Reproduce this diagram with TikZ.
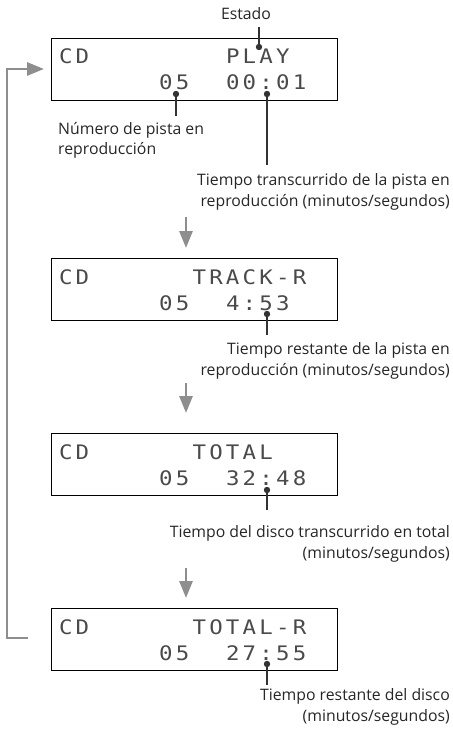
\documentclass[tikz,border=0pt]{standalone}
\usepackage{fontspec}
\setmainfont{Open Sans}
\newfontfamily\lcdfont[FakeStretch=1.12]{DejaVu Sans Mono}
\usetikzlibrary{arrows.meta}
\definecolor{flowgray}{HTML}{8E8E8E}
\definecolor{lcdgray}{HTML}{4A4A4A}
\definecolor{ptrcol}{HTML}{333333}
\makeatletter
\def\lcdstr#1{\lcd@aux#1\@nil}
\def\lcd@aux#1{\ifx#1\@nil\else\makebox[16.7pt][c]{#1}\expandafter\lcd@aux\fi}
\makeatother
\tikzset{
  display/.style={draw=black, line width=1.4pt, minimum width=286pt, minimum height=62pt, inner sep=0pt, anchor=north west},
  lcd/.style={font=\lcdfont\fontsize{20}{20}\selectfont, text=lcdgray, inner sep=0pt, anchor=base west},
  lbl/.style={font=\fontsize{15.8}{20.8}\selectfont, inner sep=0pt, text=black!85},
  ptr/.style={draw=ptrcol, line width=2.4pt},
  ptrdot/.style={fill=ptrcol},
  flow/.style={draw=flowgray, line width=2.8pt, -{Triangle[width=13pt,length=17pt]}},
}
\begin{document}
\begin{tikzpicture}[x=1pt,y=-1pt]
\useasboundingbox (0,0) rectangle (452,730);
% displays
\node[display] (b1) at (51,38) {};
\node[display] (b2) at (51,258) {};
\node[display] (b3) at (51,433) {};
\node[display] (b4) at (51,608) {};
% display texts
\node[lcd] (t1a) at ({57.2+0*16.7},64) {\lcdstr{CD}};
\node[lcd] (t1b) at ({57.2+10*16.7},64) {\lcdstr{PLAY}};
\node[lcd] (t1c) at ({57.2+6*16.7},90) {\lcdstr{05}};
\node[lcd] (t1d) at ({57.2+10*16.7},90) {\lcdstr{00:01}};
\node[lcd] (t2a) at ({57.2+0*16.7},284) {\lcdstr{CD}};
\node[lcd] (t2b) at ({57.2+8*16.7},284) {\lcdstr{TRACK-R}};
\node[lcd] (t2c) at ({57.2+6*16.7},310) {\lcdstr{05}};
\node[lcd] (t2d) at ({57.2+10*16.7},310) {\lcdstr{4:53}};
\node[lcd] (t3a) at ({57.2+0*16.7},459) {\lcdstr{CD}};
\node[lcd] (t3b) at ({57.2+8*16.7},459) {\lcdstr{TOTAL}};
\node[lcd] (t3c) at ({57.2+6*16.7},485) {\lcdstr{05}};
\node[lcd] (t3d) at ({57.2+10*16.7},485) {\lcdstr{32:48}};
\node[lcd] (t4a) at ({57.2+0*16.7},634) {\lcdstr{CD}};
\node[lcd] (t4b) at ({57.2+8*16.7},634) {\lcdstr{TOTAL-R}};
\node[lcd] (t4c) at ({57.2+6*16.7},660) {\lcdstr{05}};
\node[lcd] (t4d) at ({57.2+10*16.7},660) {\lcdstr{27:55}};
% labels (anchor at baseline of last line)
\node[lbl, anchor=base] (lEst) at (246,20) {Estado};
\node[lbl, anchor=base west, align=left] (lNum) at (58,155) {Número de pista en\\reproducción};
\node[lbl, anchor=base east, align=right] (lT1) at (450,206) {Tiempo transcurrido de la pista en\\reproducción (minutos/segundos)};
\node[lbl, anchor=base east, align=right] (lT2) at (450,375) {Tiempo restante de la pista en\\reproducción (minutos/segundos)};
\node[lbl, anchor=base east, align=right] (lT3) at (450,558) {Tiempo del disco transcurrido en total\\(minutos/segundos)};
\node[lbl, anchor=base east, align=right] (lT4) at (450,721) {Tiempo restante del disco\\(minutos/segundos)};
% pointers
\coordinate (d1) at (259,47);  \coordinate (e1) at (259,27);
\coordinate (d2) at (176,94);  \coordinate (e2) at (176,116);
\coordinate (d3) at (267,94);  \coordinate (e3) at (267,165);
\coordinate (d4) at (267,314); \coordinate (e4) at (267,335);
\coordinate (d5) at (267,490); \coordinate (e5) at (267,510);
\coordinate (d6) at (267,664); \coordinate (e6) at (267,685);
\foreach \i in {1,...,6}{
  \draw[ptr] (d\i) -- (e\i);
  \fill[ptrdot] (d\i) circle (3.2pt);
}
% flow arrows
\coordinate (f1s) at (186,217); \coordinate (f1e) at (186,248);
\coordinate (f2s) at (186,383); \coordinate (f2e) at (186,413);
\coordinate (f3s) at (186,568); \coordinate (f3e) at (186,598);
\draw[flow] (f1s) -- (f1e);
\draw[flow] (f2s) -- (f2e);
\draw[flow] (f3s) -- (f3e);
% loop back
\coordinate (L0) at (28,638);
\coordinate (L1) at (7,638);
\coordinate (L2) at (7,69);
\coordinate (L3) at (44,69);
\draw[flow, line join=miter] (L0) -- (L1) -- (L2) -- (L3);
\end{tikzpicture}
\end{document}
